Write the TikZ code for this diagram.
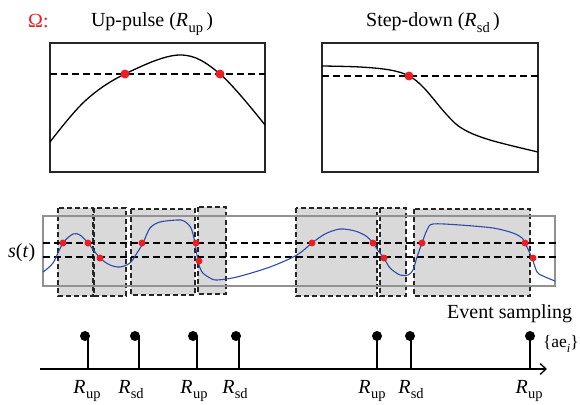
\documentclass[tikz,border=0pt]{standalone}
\usepackage{fontspec}
\setmainfont{Liberation Serif}
\usetikzlibrary{arrows.meta}
\definecolor{sigblue}{RGB}{45,75,170}
\definecolor{dotred}{RGB}{235,30,35}
\definecolor{boxgray}{RGB}{217,217,217}
\definecolor{framegray}{RGB}{145,145,145}
\newcommand{\Rsub}[1]{\textit{R}\kern0.3pt\raisebox{-0.28em}{\fontsize{14.5}{15}\selectfont #1}}
\begin{document}
\begin{tikzpicture}[x=1pt,y=-1pt,
  lbl/.style={font=\fontsize{20}{24}\selectfont, inner sep=0pt},
  panel/.style={draw=black!85, line width=1.3pt},
  curve/.style={black, line width=1.3pt},
  thresh/.style={dash pattern=on 7pt off 4pt, line width=1.1pt},
  evbox/.style={fill=boxgray, draw=black!85, dash pattern=on 5pt off 3pt, line width=1.2pt},
  frame/.style={draw=framegray, line width=1.2pt},
  sig/.style={sigblue, line width=1.1pt},
  bigdot/.style={circle, fill=dotred, inner sep=0pt, minimum size=9pt},
  smalldot/.style={circle, fill=dotred, inner sep=0pt, minimum size=7pt},
  stemdot/.style={circle, fill=black, inner sep=0pt, minimum size=10pt},
  stem/.style={line width=1.3pt}
]
\useasboundingbox (0,0) rectangle (580,404);

% ---------- titles ----------
\node[lbl, anchor=base west, text=dotred] (omega) at (28,28) {Ω:};
\node[lbl, anchor=base] (tup) at (152,27) {Up-pulse (\Rsub{up}\,)};
\node[lbl, anchor=base] (tsd) at (433,27) {Step-down (\Rsub{sd}\,)};

% ---------- top-left panel ----------
\draw[panel] (50,43) rectangle (265,172);
\draw[thresh] (50,74) -- (265,74);
\draw[curve] plot[smooth, tension=0.6] coordinates {(50,142) (85,101) (125,74) (180,55) (220,74) (265,125)};
\node[bigdot] (u1) at (125,74) {};
\node[bigdot] (u2) at (220,74) {};

% ---------- top-right panel ----------
\draw[panel] (322,43) rectangle (538,172);
\draw[thresh] (322,76) -- (538,76);
\draw[curve] plot[smooth, tension=0.6] coordinates {(322,66) (360,67) (390,70) (409,76) (424,88) (447,115) (463,129) (490,140) (538,152)};
\node[bigdot] (d1) at (409,76) {};

% ---------- event windows ----------
\draw[evbox] (58,208) rectangle (93,296);
\draw[evbox] (94,208) rectangle (126,296);
\draw[evbox] (131,209) rectangle (195,295);
\draw[evbox] (198,207) rectangle (226,294);
\draw[evbox] (296,208) rectangle (377,296);
\draw[evbox] (380,208) rectangle (406,296);
\draw[evbox] (414,209) rectangle (530,296);

% ---------- signal frame ----------
\draw[frame] (43,216) rectangle (555,286);
\draw[thresh] (43,243) -- (557,243);
\draw[thresh] (43,257) -- (557,257);

\draw[sig] plot[smooth, tension=0.5] coordinates {
 (43,272) (53,263) (63,243) (73,234) (80,235) (88,243) (100,258) (110,265) (120,267) (130,263) (137,253) (143,243) (150,228) (160,222) (177,220) (184,221) (191,228) (195,243) (198,261) (202,272) (210,278) (217,280) (237,277) (270,267) (297,255) (312,243) (325,234) (340,229) (355,231) (366,236) (373,243) (379,252) (384,258) (390,268) (400,275) (408,275) (413,270) (417,257) (422,243) (427,230) (433,224) (460,225) (493,228) (513,233) (522,238) (525,243) (532,258) (537,272) (543,276) (555,281)};

\foreach \n/\x/\y in {a/63/243, b/88/243, c/100/258, d/142/243, e/196/243, f/199/261, g/312/243, h/373/243, i/384/258, j/422/243, k/525/243, l/533/258}
  \node[smalldot] (s\n) at (\x,\y) {};

\node[lbl, anchor=base west] (st) at (8,257) {\textit{s}(\textit{t})};

% ---------- event sampling axis ----------
\coordinate (ax0) at (40,369);
\coordinate (ax1) at (547,369);
\draw[line width=1.3pt, -{Straight Barb[length=6pt,width=11pt]}] (ax0) -- (ax1);

\foreach \n/\sx/\dx/\lx/\lab in {1/88/85/87/up, 2/139/135/131/sd, 3/197/193/194/up, 4/239/236/235/sd, 5/377/377/372/up, 6/411/410/411/sd, 7/530/530/529/up}{
  \coordinate (b\n) at (\sx,369);
  \node[stemdot] (e\n) at (\dx,336) {};
  \draw[stem] (b\n) -- (\sx,336);
  \node[lbl, anchor=base] (r\n) at (\lx,393) {\Rsub{\lab}};
}

\node[lbl, anchor=base west] (evs) at (447,318) {Event sampling};
\node[font=\fontsize{17.5}{20}\selectfont, inner sep=0pt, anchor=east] (ae) at (579,344) {\{ae\raisebox{-0.25em}{\fontsize{12.5}{14}\selectfont\textit{i}}\}};
\end{tikzpicture}
\end{document}
